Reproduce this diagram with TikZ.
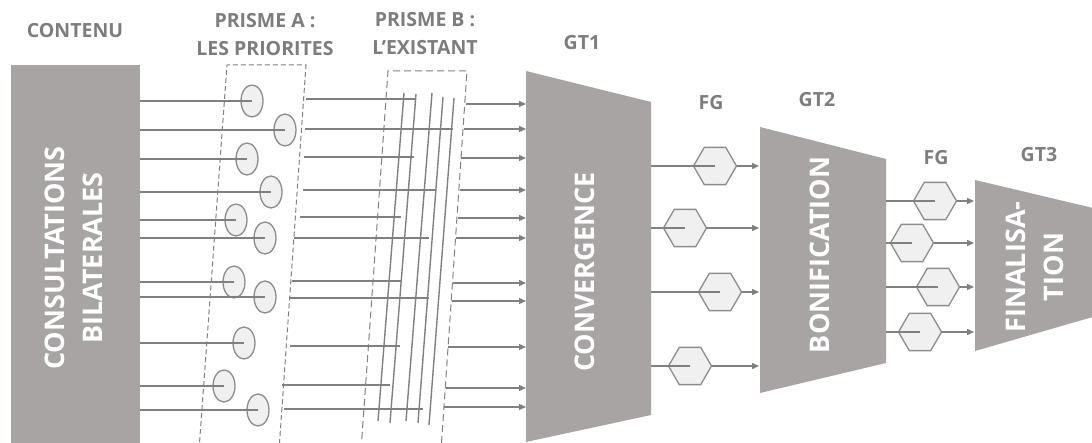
\documentclass[tikz,border=0pt]{standalone}
\usepackage{fontspec}
\setmainfont{Open Sans}
\usetikzlibrary{shapes.geometric,arrows.meta}
\definecolor{boxgray}{RGB}{168,164,163}
\definecolor{textgray}{RGB}{125,125,125}
\definecolor{linegray}{RGB}{128,128,128}
\definecolor{ellfill}{RGB}{240,240,240}
\definecolor{ellstroke}{RGB}{140,140,140}
\tikzset{
 conn/.style={draw=linegray, line width=1.4pt},
 arr/.style={conn, -{Triangle[length=7pt,width=6pt]}},
 ell/.style={ellipse, draw=ellstroke, fill=ellfill, line width=1.3pt, minimum width=22pt, minimum height=32pt, inner sep=0pt},
 hexa/.style={regular polygon, regular polygon sides=6, draw=ellstroke, fill=ellfill, line width=1.3pt, minimum size=43pt, inner sep=0pt},
 ttl/.style={text=textgray, font=\bfseries\fontsize{19.5}{28}\selectfont, align=center, inner sep=0pt},
 big/.style={rotate=90, text=white, font=\bfseries\fontsize{27}{38}\selectfont, align=center, inner sep=0pt},
 stage/.style={fill=boxgray, draw=none},
 prismA/.style={draw=linegray, line width=1pt, dash pattern=on 5pt off 3pt},
 prismB/.style={draw=linegray, line width=1pt, dash pattern=on 7pt off 4pt},
}
\begin{document}
\begin{tikzpicture}[x=1pt,y=-1pt]
\useasboundingbox (0,0) rectangle (1092,443);
\clip (0,0) rectangle (1092,443);
\fill[white] (0,0) rectangle (1092,443);

% titles
\node[ttl] (tcont) at (75,31) {CONTENU};
\node[ttl] (tpa) at (265,35) {PRISME A :\\LES PRIORITES};
\node[ttl] (tpb) at (425,34) {PRISME B :\\L’EXISTANT};
\node[ttl] (tgt1) at (582,43) {GT1};
\node[ttl] (tfg1) at (711,103) {FG};
\node[ttl] (tgt2) at (817,100) {GT2};
\node[ttl] (tfg2) at (936,158) {FG};
\node[ttl] (tgt3) at (1039,155) {GT3};

% left content box
\node[stage, minimum width=129pt, minimum height=390pt, anchor=north west, inner sep=0pt] (cb) at (11,65) {};
\node[big] (tcb) at (74,258) {CONSULTATIONS\\BILATERALES};

% prism A
\draw[prismA] (199,450) -- (227,65) -- (306,65) -- (279,450);
% prism B
\draw[prismB] (361,450) -- (388,71) -- (467,71) -- (441,450);

% ellipses
\foreach \n/\x/\y in {1/252/101,2/285/130,3/247/159,4/271/192,5/236/220,6/265/238,7/234/282,8/265/297,9/244/343,10/224/386,11/258/410}{
  \node[ell] (e\n) at (\x,\y) {};
  \draw[conn] (cb.east |- e\n.center) -- (e\n.center);
}

% slanted lines in prism B
\foreach \xa/\ya/\xb/\yb in {404/93/378/421,416/94/390/423,432/93/406/421,443/97/418/423,454/98/429/425}{
  \draw[conn] (\xa,\ya) -- (\xb,\yb);
}
% lines from prism A to prism B
\foreach \y/\xs/\xe in {99/306/416,129/305/453,157/304/414,190/303/436,217/300/401,238/294/429,281/292/401,298/290/429,346/290/400,385/282/390,409/284/423}{
  \draw[conn] (\xs,\y) -- (\xe,\y);
}

% GT1
\fill[boxgray] (526,71) -- (651,102) -- (651,415) -- (526,442) -- cycle;
\coordinate (g1l) at (526,0);
\coordinate (g1r) at (651,0);
\node[big] (tgt1b) at (585,272) {CONVERGENCE};

% arrows into GT1
\foreach \y/\xs in {104/466,129/464,158/461,190/460,218/458,238/456,283/453,301/452,347/448,388/446,407/444}{
  \coordinate (s) at (\xs,\y);
  \draw[arr] (s) -- (g1l |- s);
}

% GT2
\fill[boxgray] (760,127) -- (886,159) -- (886,363) -- (760,393) -- cycle;
\coordinate (g2l) at (760,0);
\coordinate (g2r) at (886,0);
\node[big] (tgt2b) at (820,255) {BONIFICATION};

% GT3
\fill[boxgray] (975,180) -- (1110,212) -- (1110,312) -- (975,351) -- cycle;
\coordinate (g3l) at (975,0);
\node[big] (tgt3b) at (1035,267) {FINALISA-\\TION};

% FG hexagons stage 1
\foreach \n/\x/\y in {1/715/166,2/685/228,3/720/292,4/690/366}{
  \node[hexa] (h\n) at (\x,\y) {};
  \draw[conn] (g1r |- h\n.center) -- (h\n.center);
  \draw[arr, shorten >=1pt] (h\n.east) -- (g2l |- h\n.center);
}
% FG hexagons stage 2
\foreach \n/\x/\y in {5/935/201,6/912/243,7/938/287,8/920/332}{
  \node[hexa] (h\n) at (\x,\y) {};
  \draw[conn] (g2r |- h\n.center) -- (h\n.center);
  \draw[arr, shorten >=1pt] (h\n.east) -- (g3l |- h\n.center);
}
\end{tikzpicture}
\end{document}
